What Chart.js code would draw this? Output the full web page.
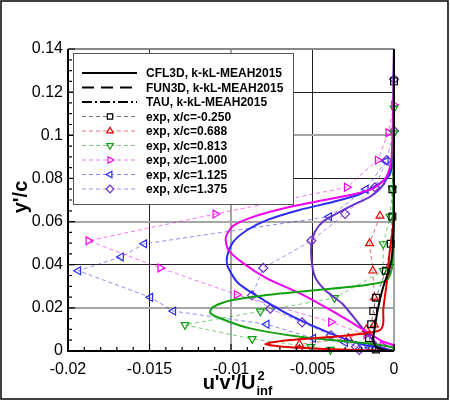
<!DOCTYPE html>
<html>
<head>
<meta charset="utf-8">
<script src="https://cdn.jsdelivr.net/npm/chart.js@4.4.1/dist/chart.umd.min.js"></script>
<style>
  html, body { margin: 0; padding: 0; background: #fff; }
</style>
</head>
<body>
<canvas id="uvChart" width="450" height="401"></canvas>
<script>
// axis ranges / ticks
const xTickMin = -0.02, xTickMax = 0, xStep = 0.005;
const yTickMin = 0, yTickMax = 0.14, yStep = 0.02;

// experiment, y'/c and u'v'/Uinf^2 per station
const expY_m0250 = [0.125, 0.075, 0.0623, 0.0497, 0.0372, 0.0247, 0.0185, 0.0124, 0.0059, 0.002, 0.0007];
const expX_m0250 = [0, -0.0001, -0.0001, -0.0002, -0.0005, -0.0011, -0.00127, -0.0014, -0.00153, -0.00133, -0.0011];
const expY_0688 = [0.0626, 0.0499, 0.0372, 0.0247, 0.0122, 0.0100, 0.0059, 0.0031, 0.0008];
const expX_0688 = [-0.00086, -0.0015, -0.0013, -0.0012, -0.0012, -0.0017, -0.0028, -0.0058, -0.0058];
const expY_0813 = [0.1125, 0.101, 0.075, 0.0623, 0.0496, 0.0372, 0.0246, 0.0184, 0.0121, 0.0056, 0.0019, 0.0006];
const expX_0813 = [0, 0, -0.0001, -0.00025, -0.00066, -0.00066, -0.00365, -0.0082, -0.01282, -0.0087, -0.0051, -0.0039];
const expY_1000 = [0.114, 0.1012, 0.0885, 0.0759, 0.0635, 0.0511, 0.0385, 0.0261, 0.0134, 0.0075, 0.0025];
const expX_1000 = [0, -0.00035, -0.001, -0.0029, -0.01096, -0.01875, -0.01434, -0.00965, -0.00387, -0.0017, -0.0007];
const expY_1125 = [0.088, 0.075, 0.0623, 0.0497, 0.0436, 0.0372, 0.0249, 0.0185, 0.0124, 0.0059, 0.0039, 0.0015];
const expX_1125 = [-0.0005, -0.00173, -0.00397, -0.01532, -0.01675, -0.01937, -0.01495, -0.01354, -0.00781, -0.00495, -0.003, -0.0015];
const expY_1375 = [0.126, 0.102, 0.0885, 0.0759, 0.0636, 0.0511, 0.0385, 0.0258, 0.0196, 0.0133, 0.0073, 0.002, 0.0005];
const expX_1375 = [0, 0, -0.00045, -0.00117, -0.003, -0.00507, -0.00802, -0.00871, -0.00759, -0.00564, -0.00387, -0.00233, -0.00213];

// CFD profiles (k-kL-MEAH2015)
const cfdY_m0250 = [0.14, 0.064, 0.0455, 0.039, 0.0298, 0.0205, 0.0113, 0.005, 0.002, 0.0003, 0];
const cfdX_m0250 = [0, 0, -0.0001, -0.00025, -0.00066, -0.00096, -0.00117, -0.00127, -0.0011, -0.00045, 0];
const cfdY_0688 = [0.14, 0.062, 0.0468, 0.0314, 0.019, 0.0128, 0.0097, 0.0082, 0.0066, 0.0048, 0.0032, 0.002, 0.0008, 0];
const cfdX_0688 = [0, 0, -0.00025, -0.00045, -0.00066, -0.00066, -0.00086, -0.0017, -0.0037, -0.0068, -0.0079, -0.0068, -0.0037, 0];
const cfdY_0813 = [0.14, 0.04, 0.0329, 0.0306, 0.0283, 0.026, 0.0236, 0.0205, 0.0179, 0.0152, 0.0105, 0.0066, 0.0043, 0.0028, 0.0014, 0];
const cfdX_0813 = [0, -0.0001, -0.00045, -0.00167, -0.0047, -0.0078, -0.0099, -0.01108, -0.01129, -0.01067, -0.00883, -0.00577, -0.0027, -0.00086, 0, 0];
const cfdY_1000 = [0.14, 0.09, 0.0808, 0.0754, 0.0723, 0.0692, 0.0661, 0.0623, 0.0581, 0.0527, 0.0468, 0.0406, 0.0337, 0.0267, 0.0182, 0.0089, 0.0043, 0.0025, 0];
const cfdX_1000 = [0, -0.00014, -0.00045, -0.00127, -0.0027, -0.0048, -0.0068, -0.0086, -0.00985, -0.01032, -0.01016, -0.00924, -0.0078, -0.00577, -0.00372, -0.00167, -0.00066, 0, 0];
const cfdY_1125 = [0.14, 0.088, 0.0808, 0.0731, 0.0692, 0.0654, 0.0607, 0.0561, 0.0507, 0.0437, 0.0391, 0.0314, 0.0236, 0.0159, 0.0082, 0.0036, 0.0013, 0];
const cfdX_1125 = [0, -0.0001, -0.00035, -0.00198, -0.0037, -0.0058, -0.0078, -0.009, -0.00985, -0.01024, -0.0102, -0.00955, -0.008, -0.0062, -0.0039, -0.0022, -0.00086, 0];
const cfdY_1375 = [0.14, 0.09, 0.0839, 0.077, 0.0715, 0.0677, 0.0638, 0.06, 0.0553, 0.0499, 0.0422, 0.0344, 0.0283, 0.0221, 0.0159, 0.0082, 0.002, 0];
const cfdX_1375 = [0, 0, -0.00025, -0.00066, -0.00147, -0.0025, -0.0035, -0.00435, -0.00485, -0.00506, -0.00506, -0.00485, -0.00423, -0.0032, -0.0025, -0.00167, -0.00086, 0];

const stationLabels = ['exp, x/c=-0.250', 'exp, x/c=0.688', 'exp, x/c=0.813', 'exp, x/c=1.000', 'exp, x/c=1.125', 'exp, x/c=1.375'];
const stationColors = ['#000000', '#e00000', '#10a010', '#ee00ee', '#2c2cf0', '#6a2fc8'];
const expLineColors = ['rgba(0,0,0,0.55)', 'rgba(224,0,0,0.55)', 'rgba(16,160,16,0.55)', 'rgba(238,0,238,0.55)', 'rgba(44,44,240,0.55)', 'rgba(106,47,200,0.55)'];
const markerStyles = ['rect', 'triangle', 'triangle', 'triangle', 'triangle', 'rectRot'];
const markerRotations = [0, 0, 180, 90, 270, 0];

const expXs = [expX_m0250, expX_0688, expX_0813, expX_1000, expX_1125, expX_1375];
const expYs = [expY_m0250, expY_0688, expY_0813, expY_1000, expY_1125, expY_1375];
const cfdXs = [cfdX_m0250, cfdX_0688, cfdX_0813, cfdX_1000, cfdX_1125, cfdX_1375];
const cfdYs = [cfdY_m0250, cfdY_0688, cfdY_0813, cfdY_1000, cfdY_1125, cfdY_1375];

const FONT = "'Liberation Sans', Arial, sans-serif";

function toPoints(xs, ys) {
  return xs.map((x, i) => ({ x: x, y: ys[i] }));
}

function fmt(v) {
  return String(+v.toFixed(4));
}

const datasets = [];

// solver legend entries (black lines)
datasets.push({ label: 'CFL3D, k-kL-MEAH2015', data: [], inLegend: true, borderColor: '#000', borderWidth: 2, borderDash: [], pointRadius: 0, showLine: true });
datasets.push({ label: 'FUN3D, k-kL-MEAH2015', data: [], inLegend: true, borderColor: '#000', borderWidth: 2, borderDash: [12, 7], pointRadius: 0, showLine: true });
datasets.push({ label: 'TAU, k-kL-MEAH2015', data: [], inLegend: true, borderColor: '#000', borderWidth: 2, borderDash: [10, 3, 2, 3], pointRadius: 0, showLine: true });

// cfd curves
for (let i = 0; i < 6; i++) {
  datasets.push({
    label: 'cfd ' + stationLabels[i],
    data: toPoints(cfdXs[i], cfdYs[i]),
    showLine: true,
    borderColor: stationColors[i],
    borderWidth: 2,
    pointRadius: 0,
    tension: 0.25,
    clip: false
  });
}

// experiment
for (let i = 0; i < 6; i++) {
  datasets.push({
    label: stationLabels[i],
    data: toPoints(expXs[i], expYs[i]),
    inLegend: true,
    showLine: true,
    borderColor: expLineColors[i],
    borderWidth: 1,
    borderDash: [4, 3],
    pointStyle: markerStyles[i],
    rotation: markerRotations[i],
    pointRadius: markerStyles[i] === 'rect' ? 4.8 : 4.5,
    pointBorderWidth: 1.2,
    pointBorderColor: stationColors[i],
    pointBackgroundColor: 'rgba(255,255,255,0)',
    markerColor: stationColors[i],
    clip: false
  });
}

// frame, inward ticks, axis lines, titles, legend box
const decorPlugin = {
  id: 'decor',
  beforeDraw(chart) {
    const c = chart.ctx;
    c.save();
    c.fillStyle = '#fff';
    c.fillRect(0, 0, chart.width, chart.height);
    c.restore();
  },
  afterDraw(chart) {
    const c = chart.ctx;
    const a = chart.chartArea;
    const xs = chart.scales.x, ys = chart.scales.y;
    c.save();

    // axis lines
    c.strokeStyle = '#000';
    c.lineWidth = 2;
    c.beginPath();
    c.moveTo(a.left, a.top);
    c.lineTo(a.left, a.bottom);
    c.lineTo(a.right, a.bottom);
    c.stroke();

    // ticks (inward)
    c.lineWidth = 1.2;
    c.beginPath();
    for (let k = 0; k <= 140; k += 5) {
      const v = k / 1000;
      const py = ys.getPixelForValue(v);
      const len = (k % 20 === 0) ? 7 : 4;
      c.moveTo(a.left, py);
      c.lineTo(a.left + len, py);
    }
    for (let k = -20; k <= 0; k += 1) {
      const v = k / 1000;
      const px = xs.getPixelForValue(v);
      const len = (k % 5 === 0) ? 7 : 4;
      c.moveTo(px, a.bottom);
      c.lineTo(px, a.bottom - len);
    }
    c.stroke();

    // y title
    c.fillStyle = '#000';
    c.font = 'bold 20px ' + FONT;
    c.textAlign = 'center';
    c.textBaseline = 'middle';
    c.save();
    c.translate(21, (a.top + a.bottom) / 2 - 3);
    c.rotate(-Math.PI / 2);
    c.fillText("y'/c", 0, 0);
    c.restore();

    // x title with sub/superscript
    c.textAlign = 'left';
    c.textBaseline = 'alphabetic';
    const main = "u'v'/U";
    const mw = c.measureText(main).width;
    c.font = 'bold 13px ' + FONT;
    const sw = c.measureText('inf').width;
    const x0 = (a.left + a.right) / 2 + 6 - (mw + sw) / 2;
    c.font = 'bold 20px ' + FONT;
    c.fillText(main, x0, 389);
    c.font = 'bold 13px ' + FONT;
    c.fillText('inf', x0 + mw + 1, 395);
    c.fillText('2', x0 + mw + 2, 380);

    // legend box
    const lx = 73, ly = 53, lw = 220, lh = 151;
    c.fillStyle = '#fff';
    c.fillRect(lx, ly, lw, lh);
    c.strokeStyle = '#555';
    c.lineWidth = 1;
    c.strokeRect(lx + 0.5, ly + 0.5, lw, lh);

    const items = chart.data.datasets.filter(d => d.inLegend);
    c.font = 'bold 12px ' + FONT;
    c.textBaseline = 'middle';
    items.forEach((d, i) => {
      const rowY = 73 + i * 14.5;
      c.strokeStyle = d.borderColor;
      c.lineWidth = d.borderWidth;
      c.setLineDash(d.borderDash || []);
      c.beginPath();
      c.moveTo(82, rowY);
      c.lineTo(137, rowY);
      c.stroke();
      c.setLineDash([]);
      if (d.markerColor) {
        c.fillStyle = '#fff';
        c.strokeStyle = d.markerColor;
        c.lineWidth = 1.2;
        Chart.helpers.drawPoint(c, { pointStyle: d.pointStyle, rotation: d.rotation, radius: 3.8, borderWidth: 1.2 }, 110, rowY);
      }
      c.fillStyle = '#000';
      c.fillText(d.label, 146, rowY + 1);
    });

    // outer frame
    c.strokeStyle = '#000';
    c.lineWidth = 1.5;
    c.strokeRect(1, 1, 447, 398);
    c.restore();
  }
};

function gridColorX(ctx) {
  const k = Math.round(ctx.tick.value * 1000);
  if (k === -20) return 'rgba(0,0,0,0)';
  return (k % 10 === 0) ? '#a6a6a6' : '#222';
}
function gridWidthX(ctx) {
  const k = Math.round(ctx.tick.value * 1000);
  return (k % 10 === 0) ? 2 : 1;
}
function gridColorY(ctx) {
  const k = Math.round(ctx.tick.value * 100);
  if (k === 0) return 'rgba(0,0,0,0)';
  if (k === 14) return '#888';
  return (k % 4 === 2) ? '#a6a6a6' : '#222';
}
function gridWidthY(ctx) {
  const k = Math.round(ctx.tick.value * 100);
  return (k % 4 === 2) ? 2 : 1;
}

const ctx = document.getElementById('uvChart');
new Chart(ctx, {
  type: 'scatter',
  data: { datasets },
  options: {
    responsive: false,
    animation: false,
    layout: { padding: { left: 6, top: 49, right: 56, bottom: 0 } },
    plugins: {
      legend: { display: false },
      tooltip: { enabled: false }
    },
    elements: { line: { fill: false } },
    scales: {
      x: {
        type: 'linear',
        min: xTickMin,
        max: xTickMax,
        afterFit: s => { s.height = 50; },
        border: { display: false },
        grid: { drawTicks: false, color: gridColorX, lineWidth: gridWidthX },
        ticks: {
          stepSize: xStep,
          padding: 9,
          color: '#000',
          maxRotation: 0,
          autoSkip: false,
          font: { family: FONT, size: 16 },
          callback: v => fmt(v)
        }
      },
      y: {
        type: 'linear',
        min: yTickMin,
        max: yTickMax,
        afterFit: s => { s.width = 62; },
        border: { display: false },
        grid: { drawTicks: false, color: gridColorY, lineWidth: gridWidthY },
        ticks: {
          stepSize: yStep,
          padding: 5,
          color: '#000',
          autoSkip: false,
          font: { family: FONT, size: 16 },
          callback: v => fmt(v)
        }
      }
    }
  },
  plugins: [decorPlugin]
});
</script>
</body>
</html>
